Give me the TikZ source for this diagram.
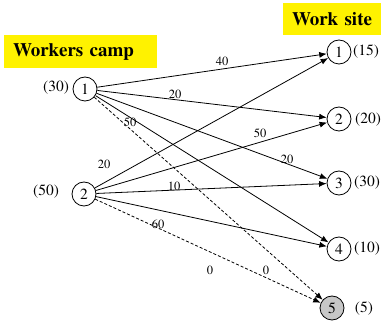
\documentclass[tikz,border=0pt]{standalone}
\usepackage[T1]{fontenc}
\usepackage{times}
\usetikzlibrary{arrows.meta}

\tikzset{
  site/.style={circle, draw, line width=0.8pt, minimum size=24pt, inner sep=0pt, font=\fontsize{15.5}{15.5}\selectfont},
  amount/.style={font=\fontsize{15.5}{15.5}\selectfont, inner sep=0pt},
  cost/.style={font=\fontsize{12.5}{12.5}\selectfont, inner sep=0pt},
  flow/.style={line width=0.8pt, -{Latex[length=7.5pt,width=6pt]}},
  dummy/.style={dash pattern=on 3pt off 2pt},
  banner/.style={fill=yellow, anchor=north west, align=left, inner xsep=9pt, inner ysep=0pt, font=\fontsize{19}{19}\selectfont\bfseries}
}

\begin{document}
\begin{tikzpicture}[x=1pt,y=-1pt]
\useasboundingbox (0,0) rectangle (383,323);
% titles
\node[banner, text width=135pt, minimum height=33pt] (camp) at (4,35) {Workers camp};
\node[banner, text width=80pt, minimum height=32pt] (site) at (283,3) {Work site};
% camps
\node[site] (s1) at (85,89) {1};
\node[site] (s2) at (84,194) {2};
\node[amount] (a1) at (56,88) {(30)};
\node[amount] (a2) at (46,192) {(50)};
% sites
\node[site] (d1) at (339,52) {1};
\node[site] (d2) at (339,119) {2};
\node[site] (d3) at (339,183) {3};
\node[site] (d4) at (339,249) {4};
\node[site, fill=black!22] (d5) at (332,308) {5};
\node[amount] (b1) at (366,52) {(15)};
\node[amount] (b2) at (368,120) {(20)};
\node[amount] (b3) at (367,183) {(30)};
\node[amount] (b4) at (367,249) {(10)};
\node[amount] (b5) at (364,309) {(5)};
% routes
\draw[flow] (s1) -- (d1);
\draw[flow] (s1) -- (d2);
\draw[flow] (s1) -- (d3);
\draw[flow] (s1) -- (d4);
\draw[flow, dummy] (s1) -- (d5);
\draw[flow] (s2) -- (d1);
\draw[flow] (s2) -- (d2);
\draw[flow] (s2) -- (d3);
\draw[flow] (s2) -- (d4);
\draw[flow, dummy] (s2) -- (d5);
% costs
\node[cost] (c11) at (222,61) {40};
\node[cost] (c12) at (175,94) {20};
\node[cost] (c13) at (287,159) {20};
\node[cost] (c14) at (130,122) {50};
\node[cost] (c15) at (266,270) {0};
\node[cost] (c21) at (104,164) {20};
\node[cost] (c22) at (260,133) {50};
\node[cost] (c23) at (174,186) {10};
\node[cost] (c24) at (158,224) {60};
\node[cost] (c25) at (210,270) {0};
\end{tikzpicture}
\end{document}
